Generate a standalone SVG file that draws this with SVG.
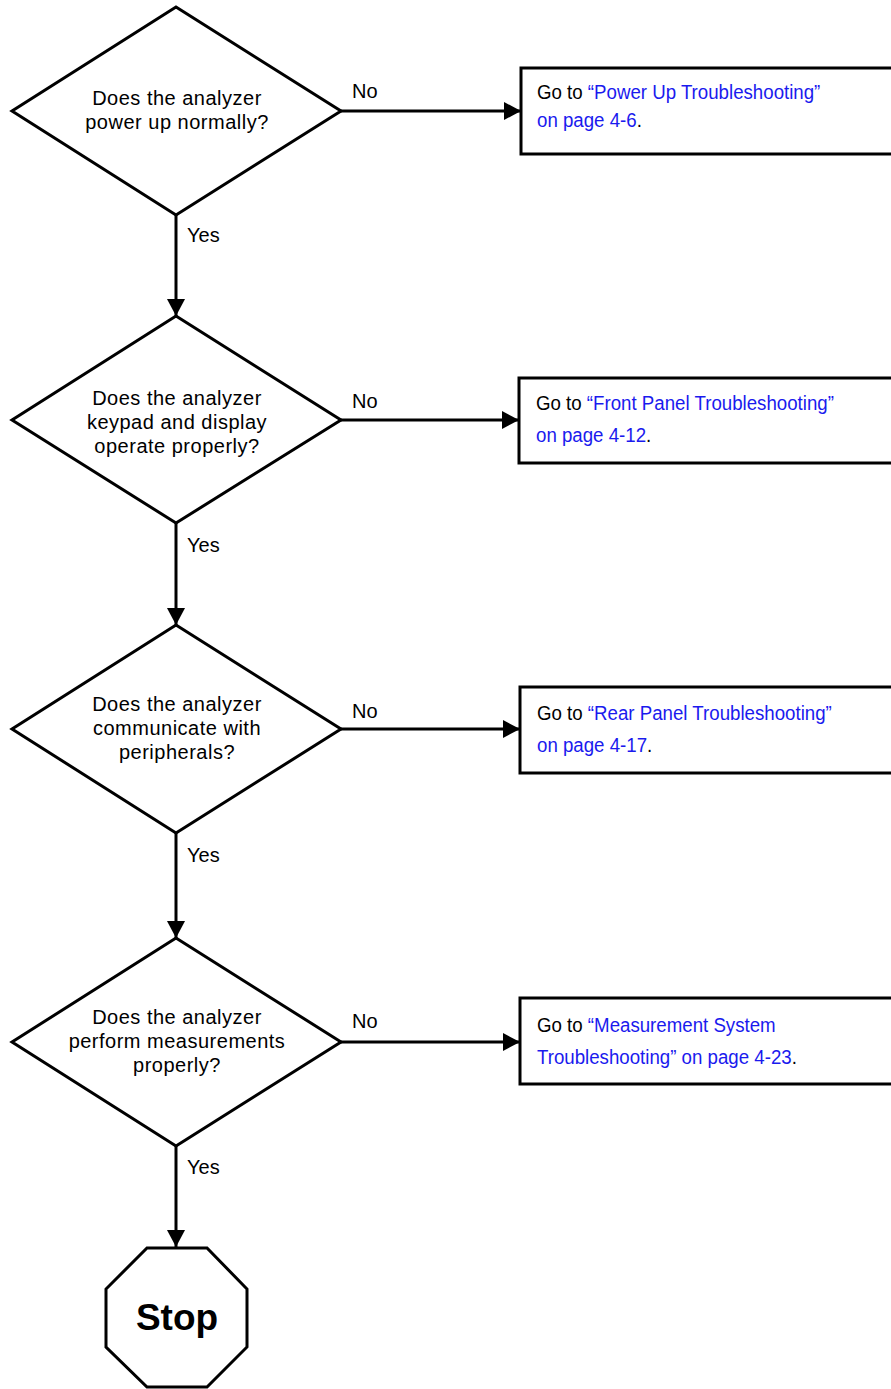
<svg xmlns="http://www.w3.org/2000/svg" width="891" height="1389" viewBox="0 0 891 1389">
<style>
.shape{fill:#fff;stroke:#000;stroke-width:3;stroke-linejoin:miter}
.conn{stroke:#000;stroke-width:3;fill:none}
.q{font-family:"Liberation Sans",Arial,sans-serif;font-size:20px;letter-spacing:0.5px;text-anchor:middle;fill:#000}
.lbl{font-family:"Liberation Sans",Arial,sans-serif;font-size:20px;fill:#000}
.box{font-family:"Liberation Sans",Arial,sans-serif;font-size:21px;fill:#000}
.lnk{fill:#1a1aee}
.stop{font-family:"Liberation Sans",Arial,sans-serif;font-size:37px;font-weight:bold;text-anchor:middle;fill:#000}
</style>
<defs>
<marker id="ah" markerWidth="17" markerHeight="18" refX="17" refY="9" orient="auto" markerUnits="userSpaceOnUse">
<path d="M0,0 L17,9 L0,18 Z" fill="#000"/>
</marker>
</defs>
<rect width="891" height="1389" fill="#fff"/>

<g id="connectors">
<line class="conn" x1="341" y1="111" x2="521" y2="111" marker-end="url(#ah)"/>
<line class="conn" x1="176" y1="215" x2="176" y2="316" marker-end="url(#ah)"/>
<line class="conn" x1="341" y1="420" x2="519" y2="420" marker-end="url(#ah)"/>
<line class="conn" x1="176" y1="523" x2="176" y2="625" marker-end="url(#ah)"/>
<line class="conn" x1="341" y1="729" x2="520" y2="729" marker-end="url(#ah)"/>
<line class="conn" x1="176" y1="833" x2="176" y2="938" marker-end="url(#ah)"/>
<line class="conn" x1="341" y1="1042" x2="520" y2="1042" marker-end="url(#ah)"/>
<line class="conn" x1="176" y1="1146" x2="176" y2="1247" marker-end="url(#ah)"/>
<text class="lbl" x="352" y="98">No</text>
<text class="lbl" x="187" y="242">Yes</text>
<text class="lbl" x="352" y="408">No</text>
<text class="lbl" x="187" y="552">Yes</text>
<text class="lbl" x="352" y="718">No</text>
<text class="lbl" x="187" y="862">Yes</text>
<text class="lbl" x="352" y="1028">No</text>
<text class="lbl" x="187" y="1174">Yes</text>
</g>

<g id="q1">
<polygon class="shape" points="176,7 341,111 176,215 12,111"/>
<text class="q" x="177" y="105">Does the analyzer</text>
<text class="q" x="177" y="129">power up normally?</text>
</g>
<g id="r1">
<rect class="shape" x="521" y="68" width="380" height="86"/>
<text class="box" transform="translate(537,99) scale(0.89,1)">Go to <tspan class="lnk">“Power Up Troubleshooting”</tspan></text>
<text class="box" transform="translate(537,127) scale(0.89,1)"><tspan class="lnk">on page 4-6</tspan>.</text>
</g>

<g id="q2">
<polygon class="shape" points="176,316 341,420 176,523 12,420"/>
<text class="q" x="177" y="405">Does the analyzer</text>
<text class="q" x="177" y="429">keypad and display</text>
<text class="q" x="177" y="453">operate properly?</text>
</g>
<g id="r2">
<rect class="shape" x="519" y="378" width="380" height="85"/>
<text class="box" transform="translate(536,410) scale(0.89,1)">Go to <tspan class="lnk">“Front Panel Troubleshooting”</tspan></text>
<text class="box" transform="translate(536,442) scale(0.89,1)"><tspan class="lnk">on page 4-12</tspan>.</text>
</g>

<g id="q3">
<polygon class="shape" points="176,625 341,729 176,833 12,729"/>
<text class="q" x="177" y="711">Does the analyzer</text>
<text class="q" x="177" y="735">communicate with</text>
<text class="q" x="177" y="759">peripherals?</text>
</g>
<g id="r3">
<rect class="shape" x="520" y="687" width="380" height="86"/>
<text class="box" transform="translate(537,720) scale(0.89,1)">Go to <tspan class="lnk">“Rear Panel Troubleshooting”</tspan></text>
<text class="box" transform="translate(537,752) scale(0.89,1)"><tspan class="lnk">on page 4-17</tspan>.</text>
</g>

<g id="q4">
<polygon class="shape" points="176,938 341,1042 176,1146 12,1042"/>
<text class="q" x="177" y="1024">Does the analyzer</text>
<text class="q" x="177" y="1048">perform measurements</text>
<text class="q" x="177" y="1072">properly?</text>
</g>
<g id="r4">
<rect class="shape" x="520" y="998" width="380" height="86"/>
<text class="box" transform="translate(537,1032) scale(0.89,1)">Go to <tspan class="lnk">“Measurement System</tspan></text>
<text class="box" transform="translate(537,1064) scale(0.89,1)"><tspan class="lnk">Troubleshooting” on page 4-23</tspan>.</text>
</g>

<g id="stop">
<polygon class="shape" points="147,1248 207,1248 247,1289 247,1347 207,1387 147,1387 106,1347 106,1289"/>
<text class="stop" x="177" y="1330">Stop</text>
</g>
</svg>
